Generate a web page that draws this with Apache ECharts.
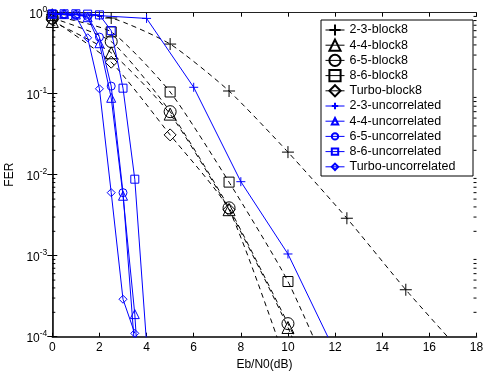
<!DOCTYPE html>
<html>
<head>
<meta charset="utf-8">
<script src="https://cdn.jsdelivr.net/npm/echarts@6/dist/echarts.min.js"></script>
<style>
  html, body { margin: 0; padding: 0; background: #fff; }
  #chart { width: 484px; height: 371px; }
</style>
</head>
<body>
<div id="chart"></div>
<script>
const FONT = '"Liberation Sans", Arial, Helvetica, sans-serif';

// Eb/N0 (dB) points for the block-8 curves
const xBlock = [0, 2.5, 5, 7.5, 10, 12.5, 15, 17.5];
const xBlockShort = [0, 2.5, 5, 7.5, 10, 12.5];
const xTurboBlock = [0, 2.5, 5, 7.5, 10];
// FER, block-8 interleaving
const fer23Block = [0.95, 0.86, 0.41, 0.108, 0.019, 0.0029, 3.8e-4, 5.8e-5];
const fer44Block = [0.78, 0.32, 0.056, 0.0037, 1.3e-4, 2e-6];
const fer65Block = [0.86, 0.44, 0.06, 0.0039, 1.45e-4, 5e-6];
const fer86Block = [0.92, 0.58, 0.105, 0.0081, 4.8e-4, 1.1e-5];
const ferTurboBlock = [0.82, 0.245, 0.031, 0.0037, 4e-5];

// Eb/N0 (dB) points for the uncorrelated curves
const x23Uncor = [0, 2, 4, 6, 8, 10, 12];
const xUncor = [0, 0.5, 1, 1.5, 2, 2.5, 3, 3.5, 4];
const xUncorShort = [0, 0.5, 1, 1.5, 2, 2.5, 3, 3.5];
// FER, uncorrelated fading
const fer23Uncor = [0.97, 0.92, 0.85, 0.12, 0.0082, 1.05e-3, 6.5e-5];
const fer44Uncor = [0.97, 0.96, 0.95, 0.88, 0.42, 0.089, 0.0055, 1.9e-4, 1e-6];
const fer65Uncor = [0.97, 0.96, 0.95, 0.9, 0.5, 0.124, 0.006, 7e-5];
const fer86Uncor = [0.97, 0.97, 0.97, 0.96, 0.94, 0.6, 0.117, 0.0088, 8.3e-5];
const ferTurboUncor = [0.96, 0.95, 0.9, 0.49, 0.115, 0.006, 2.9e-4, 1.1e-4];

// Axis ranges and log-axis minor tick mantissas
const xRange = [0, 18];
const xStep = 2;
const yRange = [1e-4, 1];
const minorMantissas = [2, 3, 4, 5, 6, 7, 8, 9];
const minorDecades = [-4, -3, -2, -1];

const PLUS = 'path://M0,5L10,5M5,0L5,10';
const CLEAR = 'rgba(0,0,0,0)';

function pairs(xs, ys) { return xs.map((x, i) => [x, ys[i]]); }

function blockSeries(name, xs, ys, symbol, size) {
  return {
    name, type: 'line', data: pairs(xs, ys),
    symbol, symbolSize: size, symbolKeepAspect: true,
    smooth: 0.2,
    lineStyle: { color: '#000', width: 1, type: [5, 4] },
    itemStyle: { color: CLEAR, borderColor: '#000', borderWidth: 1 },
    emphasis: { disabled: true }, z: 2
  };
}
function uncorSeries(name, xs, ys, symbol, size) {
  return {
    name, type: 'line', data: pairs(xs, ys),
    symbol, symbolSize: size, symbolKeepAspect: true,
    lineStyle: { color: '#0000ff', width: 1, type: 'solid' },
    itemStyle: { color: CLEAR, borderColor: '#0000ff', borderWidth: 1 },
    emphasis: { disabled: true }, z: 3
  };
}

const minorTicks = [];
minorDecades.forEach(d => minorMantissas.forEach(m => minorTicks.push([xRange[0], m * Math.pow(10, d)])));

const blackNames = ['2-3-block8', '4-4-block8', '6-5-block8', '8-6-block8', 'Turbo-block8'];
const blueNames = ['2-3-uncorrelated', '4-4-uncorrelated', '6-5-uncorrelated', '8-6-uncorrelated', 'Turbo-uncorrelated'];

const legendCommon = {
  orient: 'vertical', left: 325, padding: 0, itemWidth: 19, itemGap: 0.2, itemTextGap: 12,
  textStyle: { fontFamily: FONT, fontSize: 12.5, color: '#000', lineHeight: 15 },
  lineStyle: { type: 'solid', width: 1 },
  selectedMode: false, z: 5
};

const chart = echarts.init(document.getElementById('chart'), null, { renderer: 'canvas' });
chart.setOption({
  animation: false,
  backgroundColor: '#fff',
  grid: { left: 52.3, top: 12.7, width: 424.2, height: 324, containLabel: false, outerBoundsMode: 'none' },
  xAxis: [{
    type: 'value', min: xRange[0], max: xRange[1], interval: xStep, position: 'bottom',
    name: 'Eb/N0(dB)', nameLocation: 'middle', nameGap: 21,
    nameTextStyle: { fontFamily: FONT, fontSize: 12, color: '#000' },
    axisLine: { lineStyle: { color: '#000', width: 1.5 } },
    axisTick: { inside: true, length: 4, lineStyle: { color: '#000' } },
    axisLabel: { fontFamily: FONT, fontSize: 12, color: '#000', margin: 5 },
    splitLine: { show: false }
  }, {
    type: 'value', min: xRange[0], max: xRange[1], interval: xStep, position: 'top',
    axisLine: { lineStyle: { color: '#222', width: 1 } },
    axisTick: { inside: true, length: 4, lineStyle: { color: '#000' } },
    axisLabel: { show: false }, splitLine: { show: false }
  }],
  yAxis: [{
    type: 'log', logBase: 10, min: yRange[0], max: yRange[1], interval: 1, position: 'left',
    name: 'FER', nameLocation: 'middle', nameGap: 34,
    nameTextStyle: { fontFamily: FONT, fontSize: 12, color: '#000' },
    axisLine: { show: true, lineStyle: { color: '#000', width: 1.5 } },
    axisTick: { inside: true, length: 5, lineStyle: { color: '#000' } },
    axisLabel: {
      margin: 5,
      formatter: v => '{b|10}{s|' + Math.round(Math.log10(v)) + '}',
      rich: {
        b: { fontFamily: FONT, fontSize: 12, color: '#000', verticalAlign: 'bottom', lineHeight: 14 },
        s: { fontFamily: FONT, fontSize: 8.5, color: '#000', verticalAlign: 'bottom', padding: [0, 0, 7, 0] }
      }
    },
    splitLine: { show: false }, minorTick: { show: false }
  }, {
    type: 'log', logBase: 10, min: yRange[0], max: yRange[1], interval: 1, position: 'right',
    axisLine: { show: true, lineStyle: { color: '#222', width: 1 } },
    axisTick: { inside: true, length: 5, lineStyle: { color: '#000' } },
    axisLabel: { show: false }, splitLine: { show: false }
  }],
  legend: [
    Object.assign({}, legendCommon, { top: 22.5, itemHeight: 14, data: blackNames }),
    Object.assign({}, legendCommon, { top: 98.5, itemHeight: 8, data: blueNames })
  ],
  graphic: [{
    type: 'rect', left: 320.5, top: 19.5, z: 4,
    shape: { width: 152, height: 156 },
    style: { fill: '#fff', stroke: '#000', lineWidth: 1 }
  }],
  series: [
    blockSeries('2-3-block8', xBlock, fer23Block, PLUS, 12),
    blockSeries('4-4-block8', xBlockShort, fer44Block, 'triangle', 12),
    blockSeries('6-5-block8', xBlockShort, fer65Block, 'circle', 12),
    blockSeries('8-6-block8', xBlockShort, fer86Block, 'rect', 10),
    blockSeries('Turbo-block8', xTurboBlock, ferTurboBlock, 'diamond', 12),
    uncorSeries('2-3-uncorrelated', x23Uncor, fer23Uncor, PLUS, 9),
    uncorSeries('4-4-uncorrelated', xUncor, fer44Uncor, 'triangle', 9),
    uncorSeries('6-5-uncorrelated', xUncorShort, fer65Uncor, 'circle', 8),
    uncorSeries('8-6-uncorrelated', xUncor, fer86Uncor, 'rect', 8),
    uncorSeries('Turbo-uncorrelated', xUncorShort, ferTurboUncor, 'diamond', 8),
    {
      // minor ticks of the log axis, drawn inward on both sides of the box
      type: 'custom', data: minorTicks, clip: false, silent: true, z: 1,
      renderItem: (params, api) => {
        const v = api.value(1);
        const pl = api.coord([xRange[0], v]);
        const pr = api.coord([xRange[1], v]);
        return {
          type: 'group', children: [
            { type: 'line', shape: { x1: pl[0], y1: pl[1], x2: pl[0] + 3, y2: pl[1] }, style: { stroke: '#000', lineWidth: 1 } },
            { type: 'line', shape: { x1: pr[0], y1: pr[1], x2: pr[0] - 3, y2: pr[1] }, style: { stroke: '#000', lineWidth: 1 } }
          ]
        };
      }
    }
  ]
});
</script>
</body>
</html>
